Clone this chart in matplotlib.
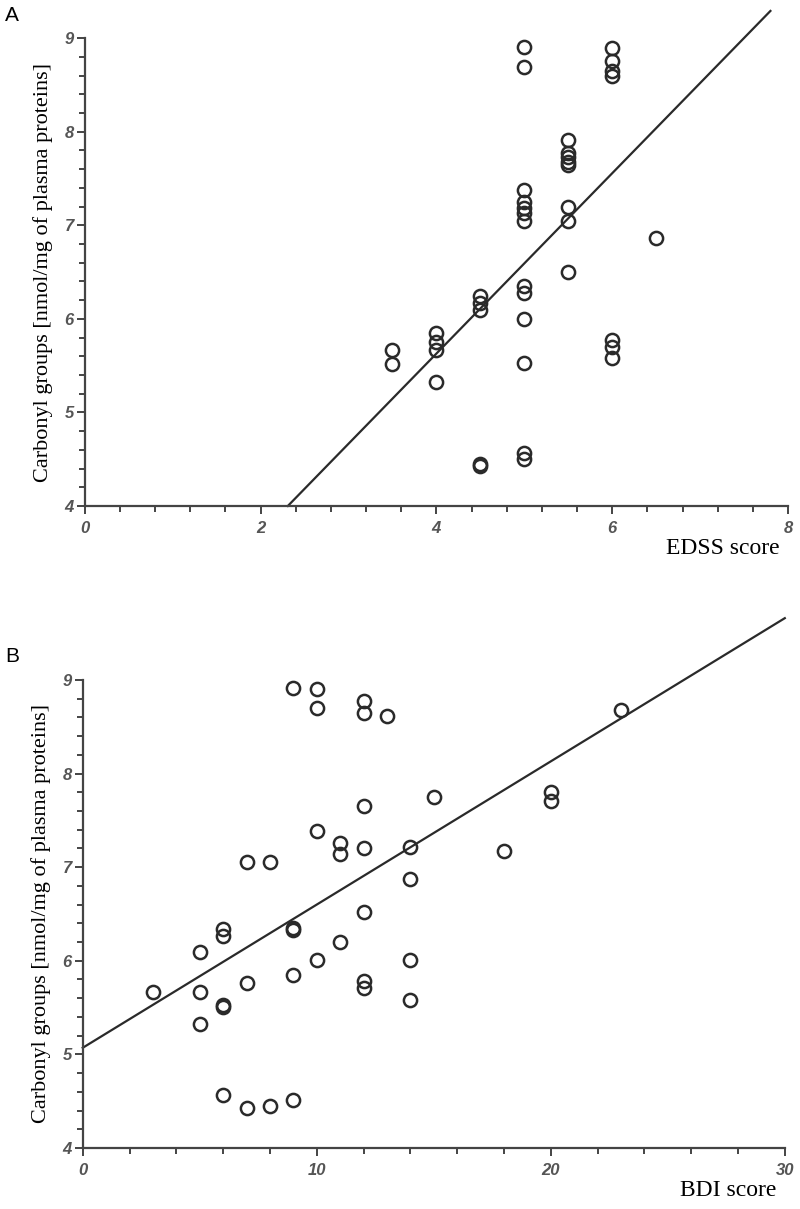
import matplotlib.pyplot as plt
from matplotlib.ticker import MultipleLocator

# panel A: EDSS score vs carbonyl groups
edss = [3.5, 3.5,
        4, 4, 4, 4,
        4.5, 4.5, 4.5, 4.5, 4.5,
        5, 5, 5, 5, 5, 5, 5, 5, 5, 5, 5, 5, 5,
        5.5, 5.5, 5.5, 5.5, 5.5, 5.5, 5.5, 5.5,
        6, 6, 6, 6, 6, 6, 6,
        6.5]
carb_a = [5.67, 5.52,
          5.85, 5.75, 5.67, 5.32,
          6.24, 6.17, 6.09, 4.45, 4.43,
          8.90, 8.69, 7.38, 7.25, 7.18, 7.13, 7.04, 6.35, 6.28, 6.00, 5.53, 4.57, 4.50,
          7.91, 7.77, 7.73, 7.68, 7.64, 7.19, 7.05, 6.50,
          8.89, 8.75, 8.65, 8.60, 5.77, 5.70, 5.58,
          6.86]
fit_a_x = [2.31, 7.80]
fit_a_y = [4.0, 9.29]

# panel B: BDI score vs carbonyl groups
bdi = [3,
       5, 5, 5,
       6, 6, 6, 6, 6,
       7, 7, 7,
       8, 8,
       9, 9, 9, 9, 9,
       10, 10, 10, 10,
       11, 11, 11,
       12, 12, 12, 12, 12, 12, 12,
       13,
       14, 14, 14, 14,
       15, 18, 20, 20, 23]
carb_b = [5.67,
          6.09, 5.67, 5.32,
          6.34, 6.26, 5.53, 5.51, 4.57,
          7.05, 5.76, 4.43,
          7.05, 4.45,
          8.91, 6.35, 6.33, 5.85, 4.51,
          8.90, 8.70, 7.39, 6.01,
          7.26, 7.14, 6.20,
          8.77, 8.65, 7.65, 7.20, 6.52, 5.78, 5.71,
          8.62,
          7.21, 6.87, 6.01, 5.58,
          7.75, 7.17, 7.80, 7.71, 8.68]
fit_b_x = [0, 30]
fit_b_y = [5.07, 9.66]

ylabel = "Carbonyl groups [nmol/mg of plasma proteins]"

fig = plt.figure(figsize=(8, 12.09), dpi=100)
ax_a = fig.add_axes([0.106, 0.5815, 0.879, 0.387])
ax_b = fig.add_axes([0.1034, 0.0505, 0.8776, 0.3871])

ink = "#2a2a2a"
panels = [
    (ax_a, edss, carb_a, fit_a_x, fit_a_y, (0, 8), 2, 0.4, "EDSS score", "A", (-0.103, 1.048)),
    (ax_b, bdi, carb_b, fit_b_x, fit_b_y, (0, 30), 10, 2, "BDI score", "B", (-0.100, 1.050)),
]

for ax, xs, ys, fx, fy, xlim, xmaj, xmin, xlab, letter, lpos in panels:
    ax.plot(xs, ys, linestyle="none", marker="o", markersize=9.5,
            markerfacecolor="none", markeredgecolor=ink, markeredgewidth=1.8,
            clip_on=False)
    ax.plot(fx, fy, color=ink, linewidth=1.6, clip_on=False)

    ax.set_xlim(*xlim)
    ax.set_ylim(4, 9)
    for side in ["top", "right"]:
        ax.spines[side].set_visible(False)
    for side in ["left", "bottom"]:
        ax.spines[side].set_color("#444444")
        ax.spines[side].set_linewidth(1.6)

    ax.xaxis.set_major_locator(MultipleLocator(xmaj))
    ax.xaxis.set_minor_locator(MultipleLocator(xmin))
    ax.yaxis.set_major_locator(MultipleLocator(1))
    ax.yaxis.set_minor_locator(MultipleLocator(0.2))
    ax.tick_params(which="major", length=6, width=1.4, color="#444444",
                   labelsize=12, labelcolor="#555555", pad=2)
    ax.tick_params(which="minor", length=4, width=1.4, color="#444444")
    ax.tick_params(axis="x", which="major", pad=5)
    for lab in ax.get_xticklabels() + ax.get_yticklabels():
        lab.set_fontstyle("italic")
        lab.set_fontweight("bold")
        lab.set_family("Liberation Sans")

    ax.set_ylabel(ylabel, family="Liberation Serif", fontsize=16, labelpad=8)
    ax.text(0.988, -0.09, xlab, transform=ax.transAxes, ha="right", va="center",
            family="Liberation Serif", fontsize=17)
    ax.text(lpos[0], lpos[1], letter, transform=ax.transAxes, ha="center",
            va="center", family="Liberation Sans", fontsize=15)

fig.savefig("out.png", dpi=100)
